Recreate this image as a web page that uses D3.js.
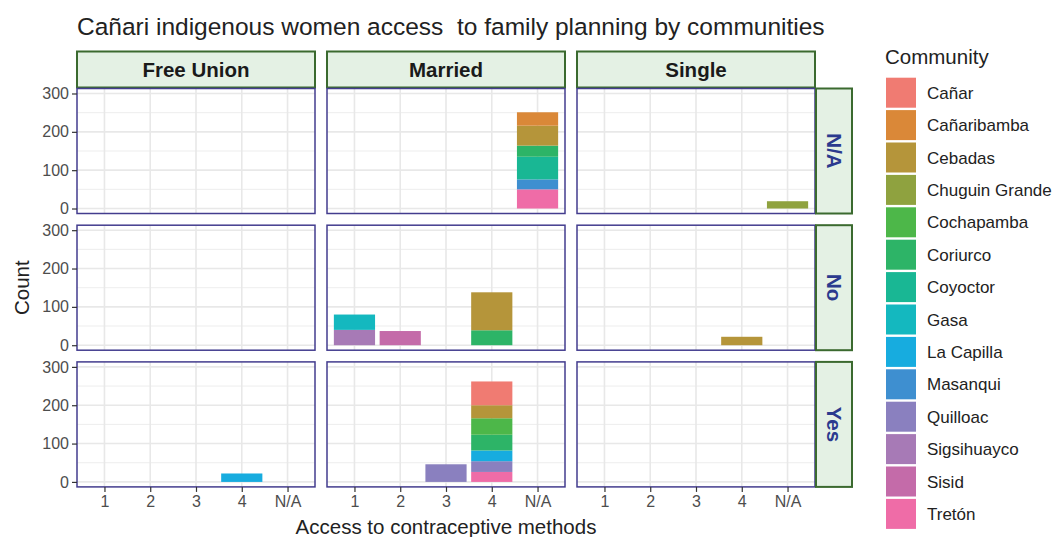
<!DOCTYPE html>
<html>
<head>
<meta charset="utf-8">
<script src="https://cdn.jsdelivr.net/npm/d3@7"></script>
<style>
  body { margin: 0; background: #fff; }
  text { font-family: "Liberation Sans", Arial, sans-serif; }
</style>
</head>
<body>
<div id="viz"></div>
<script>
// Facet levels and categories
const statuses = ['Free Union', 'Married', 'Single'];
const accessLevels = ['N/A', 'No', 'Yes'];
const methods = ['1', '2', '3', '4', 'N/A'];
const communities = ['Cañar', 'Cañaribamba', 'Cebadas', 'Chuguin Grande', 'Cochapamba',
  'Coriurco', 'Coyoctor', 'Gasa', 'La Capilla', 'Masanqui', 'Quilloac',
  'Sigsihuayco', 'Sisid', 'Tretón'];
const communityColors = ['#F07B72', '#DA8838', '#B5953A', '#8FA23F', '#4DB749',
  '#2DB467', '#19B794', '#14B8BF', '#17ACDF', '#3E8FD0', '#8A80BF',
  '#A77AB6', '#C46BA9', '#EF6CA7'];
const yTicks = [0, 100, 200, 300];
const yMinor = [50, 150, 250];

// status, access, method, community, count
const counts = [
  ['Married', 'N/A', 'N/A', 'Cañaribamba', 35],
  ['Married', 'N/A', 'N/A', 'Cebadas', 52],
  ['Married', 'N/A', 'N/A', 'Coriurco', 29],
  ['Married', 'N/A', 'N/A', 'Coyoctor', 59],
  ['Married', 'N/A', 'N/A', 'Masanqui', 26],
  ['Married', 'N/A', 'N/A', 'Tretón', 50],
  ['Single', 'N/A', 'N/A', 'Chuguin Grande', 19],
  ['Married', 'No', '1', 'Gasa', 40],
  ['Married', 'No', '1', 'Sigsihuayco', 40],
  ['Married', 'No', '2', 'Sisid', 37],
  ['Married', 'No', '4', 'Cebadas', 99],
  ['Married', 'No', '4', 'Coriurco', 39],
  ['Single', 'No', '4', 'Cebadas', 22],
  ['Free Union', 'Yes', '4', 'La Capilla', 22],
  ['Married', 'Yes', '3', 'Quilloac', 46],
  ['Married', 'Yes', '4', 'Cañar', 62],
  ['Married', 'Yes', '4', 'Cebadas', 34],
  ['Married', 'Yes', '4', 'Cochapamba', 43],
  ['Married', 'Yes', '4', 'Coriurco', 41],
  ['Married', 'Yes', '4', 'La Capilla', 28],
  ['Married', 'Yes', '4', 'Quilloac', 28],
  ['Married', 'Yes', '4', 'Tretón', 26]
];

const width = 1052;
const height = 537;
const panel = {left: 77, top: 88.5, w: 238, h: 125, colStep: 250, rowStep: 136.7};
const stripSize = 36;
const gridColor = '#E8E8E8';

const svg = d3.select('#viz')
  .append('svg')
  .attr('width', width)
  .attr('height', height);

const xScale = d3.scalePoint()
  .domain(methods)
  .range([0, panel.w])
  .padding(0.6);
const barWidth = xScale.step() * 0.9;

const yScale = d3.scaleLinear()
  .domain([-13, 313])
  .range([panel.h, 0]);

const color = d3.scaleOrdinal()
  .domain(communities)
  .range(communityColors);

// ggplot stacks the first level on top, so the last one goes at the bottom
const stack = d3.stack()
  .keys(communities.slice().reverse())
  .value((d, k) => d[k] || 0);

// Title
svg.append('text')
  .attr('x', 77)
  .attr('y', 35)
  .attr('font-size', 24.5)
  .attr('fill', '#222')
  .style('white-space', 'pre')
  .text('Cañari indigenous women access  to family planning by communities');

statuses.forEach((status, i) => {
  const px = panel.left + i * panel.colStep;

  // Top strip
  svg.append('rect')
    .attr('x', px)
    .attr('y', panel.top - stripSize - 1)
    .attr('width', panel.w)
    .attr('height', stripSize)
    .attr('fill', '#E4F1E4')
    .attr('stroke', '#3B6A2F')
    .attr('stroke-width', 2);
  svg.append('text')
    .attr('x', px + panel.w / 2)
    .attr('y', panel.top - stripSize / 2 - 1 + 7)
    .attr('text-anchor', 'middle')
    .attr('font-size', 20.5)
    .attr('font-weight', 'bold')
    .attr('fill', '#1A1A1A')
    .text(status);

  accessLevels.forEach((acc, j) => {
    const py = panel.top + j * panel.rowStep;
    const g = svg.append('g').attr('transform', `translate(${px}, ${py})`);

    // grid
    g.selectAll('.minor')
      .data(yMinor)
      .join('line')
        .attr('x1', 0).attr('x2', panel.w)
        .attr('y1', d => yScale(d)).attr('y2', d => yScale(d))
        .attr('stroke', gridColor).attr('stroke-width', 0.8);
    g.selectAll('.major')
      .data(yTicks)
      .join('line')
        .attr('x1', 0).attr('x2', panel.w)
        .attr('y1', d => yScale(d)).attr('y2', d => yScale(d))
        .attr('stroke', gridColor).attr('stroke-width', 1.6);
    g.selectAll('.vgrid')
      .data(methods)
      .join('line')
        .attr('x1', d => xScale(d)).attr('x2', d => xScale(d))
        .attr('y1', 0).attr('y2', panel.h)
        .attr('stroke', gridColor).attr('stroke-width', 1.6);

    // bars
    const rows = methods.map(m => {
      const row = {method: m};
      counts
        .filter(c => c[0] === status && c[1] === acc && c[2] === m)
        .forEach(c => { row[c[3]] = c[4]; });
      return row;
    });
    const series = stack(rows);

    series.forEach(s => {
      g.selectAll(null)
        .data(s.filter(d => d[1] > d[0]))
        .join('rect')
          .attr('x', d => xScale(d.data.method) - barWidth / 2)
          .attr('width', barWidth)
          .attr('y', d => yScale(d[1]))
          .attr('height', d => yScale(d[0]) - yScale(d[1]))
          .attr('fill', color(s.key));
    });

    // panel border
    g.append('rect')
      .attr('width', panel.w)
      .attr('height', panel.h)
      .attr('fill', 'none')
      .attr('stroke', '#433C8E')
      .attr('stroke-width', 1.5);

    // axes
    if (i === 0) {
      const ax = g.append('g')
        .call(d3.axisLeft(yScale).tickValues(yTicks).tickSize(5).tickPadding(3));
      ax.select('.domain').remove();
      ax.selectAll('line').attr('stroke', '#333').attr('stroke-width', 1.2);
      ax.selectAll('text').attr('fill', '#4D4D4D').attr('font-size', 16)
        .style('font-family', '"Liberation Sans", Arial, sans-serif');
    }
    if (j === accessLevels.length - 1) {
      const ax = g.append('g')
        .attr('transform', `translate(0, ${panel.h})`)
        .call(d3.axisBottom(xScale).tickSize(5).tickPadding(4));
      ax.select('.domain').remove();
      ax.selectAll('line').attr('stroke', '#333').attr('stroke-width', 1.2);
      ax.selectAll('text').attr('fill', '#4D4D4D').attr('font-size', 16)
        .style('font-family', '"Liberation Sans", Arial, sans-serif');
    }

    // right strip
    if (i === statuses.length - 1) {
      svg.append('rect')
        .attr('x', px + panel.w + 1)
        .attr('y', py)
        .attr('width', stripSize)
        .attr('height', panel.h)
        .attr('fill', '#E4F1E4')
        .attr('stroke', '#3B6A2F')
        .attr('stroke-width', 2);
      const tx = px + panel.w + 1 + stripSize / 2 - 7;
      const ty = py + panel.h / 2;
      svg.append('text')
        .attr('transform', `translate(${tx}, ${ty}) rotate(90)`)
        .attr('text-anchor', 'middle')
        .attr('font-size', 20.5)
        .attr('font-weight', 'bold')
        .attr('fill', '#2B3A8E')
        .text(acc);
    }
  });
});

// Axis titles
svg.append('text')
  .attr('x', panel.left + (2 * panel.colStep + panel.w) / 2)
  .attr('y', 534)
  .attr('text-anchor', 'middle')
  .attr('font-size', 20.5)
  .attr('fill', '#222')
  .text('Access to contraceptive methods');

svg.append('text')
  .attr('transform', `translate(29, ${panel.top + (2 * panel.rowStep + panel.h) / 2}) rotate(-90)`)
  .attr('text-anchor', 'middle')
  .attr('font-size', 20.5)
  .attr('fill', '#222')
  .text('Count');

// Legend
const legend = svg.append('g').attr('transform', 'translate(885, 0)');
legend.append('text')
  .attr('x', 0)
  .attr('y', 64)
  .attr('font-size', 20.5)
  .attr('fill', '#222')
  .text('Community');

const items = legend.selectAll('.item')
  .data(communities)
  .join('g')
    .attr('class', 'item')
    .attr('transform', (d, k) => `translate(0, ${77.7 + k * 32.4})`);
items.append('rect')
  .attr('x', 1)
  .attr('width', 30)
  .attr('height', 30)
  .attr('fill', d => color(d));
items.append('text')
  .attr('x', 42)
  .attr('y', 21)
  .attr('font-size', 17)
  .attr('fill', '#222')
  .text(d => d);
</script>
</body>
</html>
